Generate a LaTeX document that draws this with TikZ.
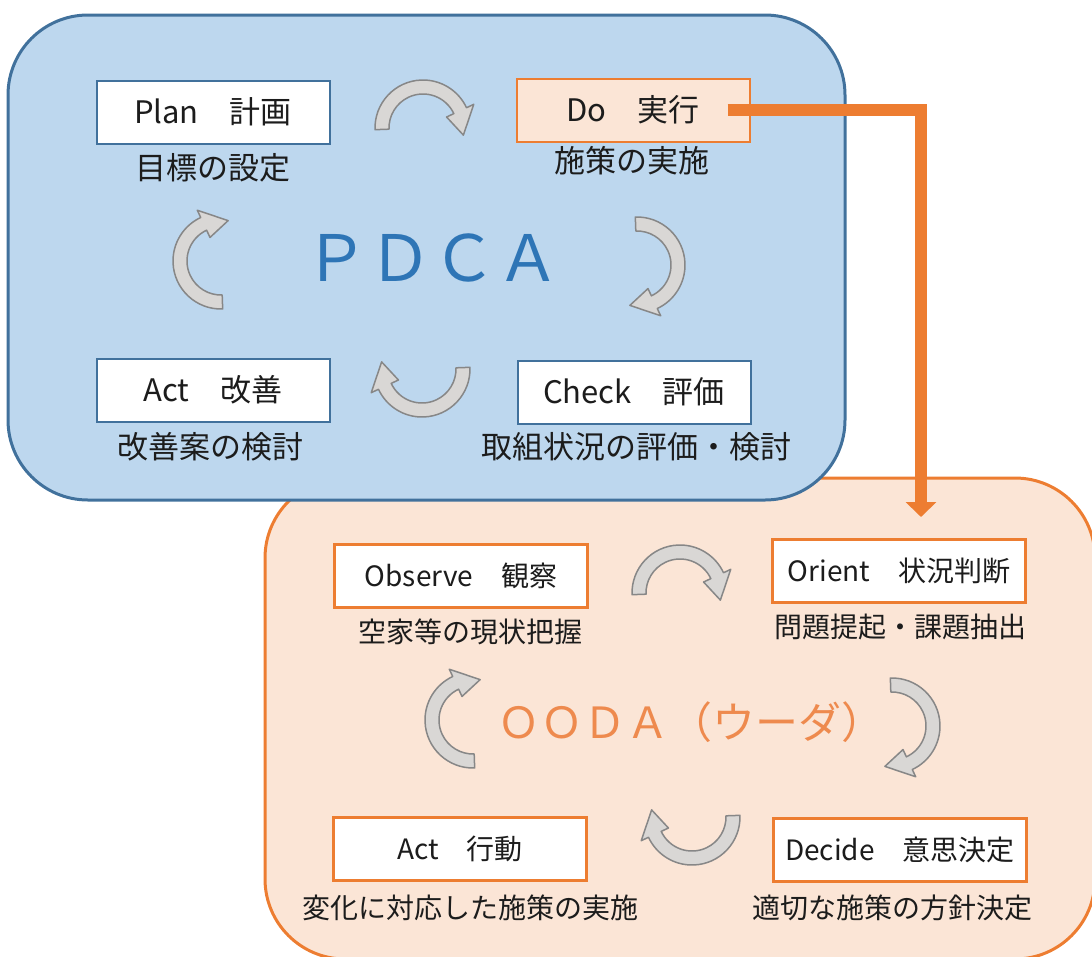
\documentclass[tikz,border=0pt]{standalone}
\usepackage{fontspec}
\setmainfont{Noto Sans CJK JP}
\usetikzlibrary{arrows.meta,calc}

\definecolor{pdcafill}{HTML}{BDD7EE}
\definecolor{pdcaline}{HTML}{41719C}
\definecolor{pdcatext}{HTML}{2E75B6}
\definecolor{oodafill}{HTML}{FBE5D6}
\definecolor{oodaline}{HTML}{ED7D31}
\definecolor{oodatext}{HTML}{EE8A4E}
\definecolor{cycfill}{HTML}{D9D7D5}
\definecolor{cycline}{HTML}{878787}
\definecolor{ink}{HTML}{1C1C1C}

\tikzset{
  panel/.style={line width=3pt, rounded corners=80pt},
  pdcabox/.style={draw=pdcaline, fill=white, line width=2pt, minimum width=233pt,
    minimum height=63pt, inner sep=0pt, text=ink, font=\fontsize{31pt}{36pt}\selectfont},
  oodabox/.style={draw=oodaline, fill=white, line width=2.2pt, minimum width=253pt,
    minimum height=63pt, inner sep=0pt, text=ink, font=\fontsize{28pt}{33pt}\selectfont},
  pdcanote/.style={text=ink, inner sep=0pt, font=\fontsize{31pt}{36pt}\selectfont},
  oodanote/.style={text=ink, inner sep=0pt, font=\fontsize{28pt}{33pt}\selectfont},
  cyc/.style={draw=cycline, fill=cycfill, line width=1.5pt, line join=round},
  flow/.style={draw=oodaline, line width=12pt, -{Triangle[width=30pt,length=15pt]}},
}

% curved cycle arrow: #1 turn (degrees, clockwise on screen), #2 centre
\newcommand\cyclearrow[2]{%
  \begin{scope}[shift={#2}]
    \draw[cyc] ({#1+178}:48) arc[start angle={#1+178}, end angle={#1+335}, radius=48]
      -- ({#1+335}:56) -- ({#1+10}:41) -- ({#1+335}:26) -- ({#1+335}:34)
      arc[start angle={#1+335}, end angle={#1+178}, radius=34] -- cycle;
  \end{scope}}

\begin{document}
\begin{tikzpicture}[x=1pt, y=-1pt]
  \useasboundingbox (0,0) rectangle (1092,956);
  \clip (0,0) rectangle (1092,956);

  % OODA panel (behind), then PDCA panel
  \draw[panel, draw=oodaline, fill=oodafill] (265,478) rectangle (1095,959);
  \draw[panel, draw=pdcaline, fill=pdcafill] (8,15) rectangle (845,500);

  % PDCA cycle
  \node[pdcabox] (plan) at (213,112) {Plan　計画};
  \node[pdcanote] (plannote) at (213,168) {目標の設定};
  \node[pdcabox, fill=oodafill, draw=oodaline] (do) at (633,110) {Do　実行};
  \node[pdcanote] (donote) at (632,161) {施策の実施};
  \node[pdcabox] (act) at (213,390) {Act　改善};
  \node[pdcanote] (actnote) at (210,447) {改善案の検討};
  \node[pdcabox] (check) at (634,392) {Check　評価};
  \node[pdcanote] (checknote) at (636,447) {取組状況の評価・検討};
  \node[text=pdcatext, font=\fontsize{64pt}{70pt}\selectfont] (pdca) at (432,258) {ＰＤＣＡ};

  \cyclearrow{0}{(423,128)}
  \cyclearrow{90}{(637,265)}
  \cyclearrow{180}{(422,369)}
  \cyclearrow{270}{(221,261)}

  % OODA loop
  \node[oodabox] (observe) at (461,576) {Observe　観察};
  \node[oodanote] (observenote) at (470,632) {空家等の現状把握};
  \node[oodabox] (orient) at (899,571) {Orient　状況判断};
  \node[oodanote] (orientnote) at (900,627) {問題提起・課題抽出};
  \node[oodabox] (oact) at (460,849) {Act　行動};
  \node[oodanote] (oactnote) at (470,908) {変化に対応した施策の実施};
  \node[oodabox] (decide) at (900,850) {Decide　意思決定};
  \node[oodanote] (decidenote) at (892,908) {適切な施策の方針決定};
  \node[text=oodatext, font=\fontsize{43pt}{50pt}\selectfont] (ooda) at (691,722) {ＯＯＤＡ（ウーダ）};

  \cyclearrow{0}{(680,593)}
  \cyclearrow{90}{(892,726)}
  \cyclearrow{180}{(692,817)}
  \cyclearrow{270}{(473,720)}

  % hand-over from Do to the OODA loop
  \coordinate (dostart) at ($(do.east)+(-23,0)$);
  \coordinate (drop) at (921,517);
  \draw[flow] (dostart) -| (drop);
\end{tikzpicture}
\end{document}
